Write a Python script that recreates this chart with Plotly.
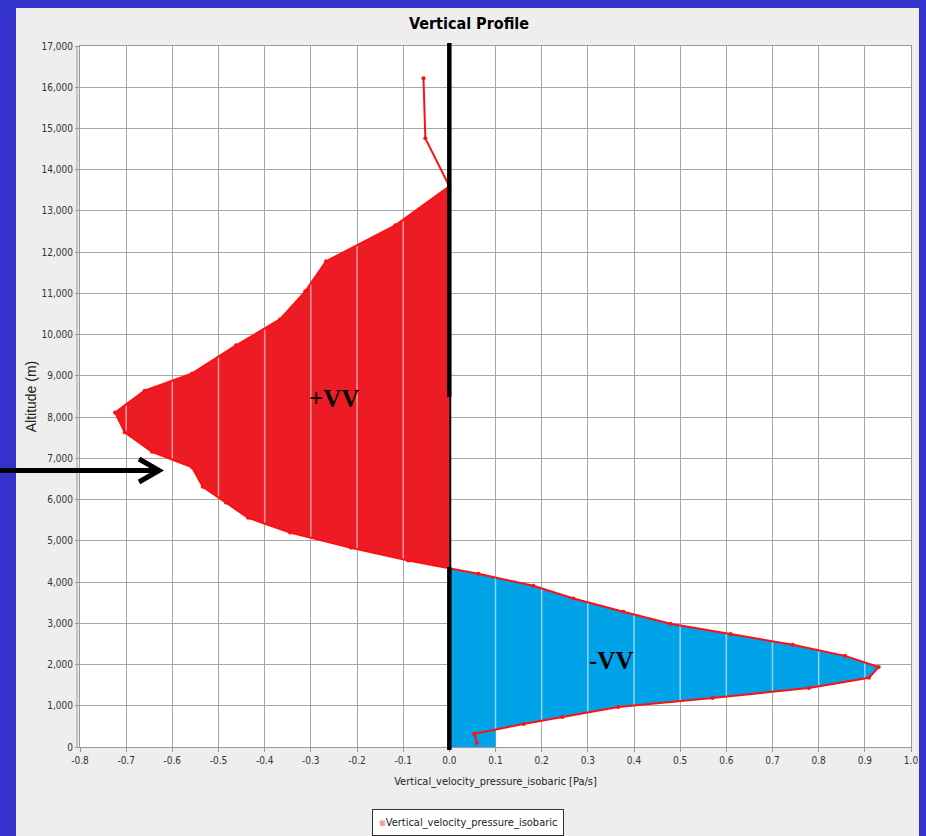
import plotly.graph_objects as go

# ---------------- data ----------------
velocity = [-0.056, -0.052, 0.0, -0.117, -0.267, -0.312, -0.367, -0.462, -0.557, -0.660,
            -0.724, -0.703, -0.644, -0.557, -0.534, -0.484, -0.436, -0.345, -0.213, -0.089,
            0.063, 0.182, 0.269, 0.377, 0.479, 0.609, 0.744, 0.857, 0.930, 0.909,
            0.779, 0.570, 0.366, 0.245, 0.161, 0.054, 0.060]
altitude = [16220, 14760, 13600, 12650, 11780, 11050, 10370, 9740, 9060, 8640,
            8110, 7630, 7160, 6780, 6310, 5930, 5560, 5200, 4830, 4520,
            4200, 3910, 3600, 3280, 2990, 2740, 2480, 2210, 1940, 1680,
            1430, 1190, 970, 730, 560, 320, 100]
x_ticks = [round(-0.8 + 0.1 * i, 1) for i in range(19)]
y_ticks = list(range(0, 17001, 1000))
series_name = "Vertical_velocity_pressure_isobaric"
x_title = "Vertical_velocity_pressure_isobaric [Pa/s]"
y_title = "Altitude (m)"
chart_title = "Vertical Profile"

# ---------------- geometry helpers ----------------
W, H = 926, 836
L, R, T, B = 80, 911, 46, 747


def px(xp):
    return (xp - L) / (R - L)


def py(yp):
    return (B - yp) / (B - T)


NARROW = "DejaVu Sans Condensed, Liberation Sans Narrow, Arial Narrow, sans-serif"
RED_FILL = "#ed1c24"
BLUE_FILL = "#00a2e8"
LINE_RED = "#ff1010"

# ---------------- build fill polygons from the profile ----------------
start = velocity.index(0.0)          # profile touches x=0 at the top of the red area
red_x, red_y = [velocity[start]], [altitude[start]]
i = start + 1
while velocity[i] <= 0:
    red_x.append(velocity[i]); red_y.append(altitude[i])
    i += 1
x1, y1, x2, y2 = velocity[i - 1], altitude[i - 1], velocity[i], altitude[i]
yc = y1 + (0 - x1) * (y2 - y1) / (x2 - x1)
red_x.append(0.0); red_y.append(yc)

gx = 0.1   # the lower part of the blue area is bounded by the 0.1 gridline
peak = velocity.index(max(velocity))
blue_x, blue_y = [0.0], [yc]
while i < len(velocity):
    if i > peak and velocity[i] < gx:
        break
    blue_x.append(velocity[i]); blue_y.append(altitude[i])
    i += 1
x1, y1, x2, y2 = velocity[i - 1], altitude[i - 1], velocity[i], altitude[i]
yb = y1 + (gx - x1) * (y2 - y1) / (x2 - x1)
blue_x += [gx, gx, 0.0]
blue_y += [yb, 0.0, 0.0]


def stripes(poly_x, poly_y, grid):
    xs, ys = [], []
    n = len(poly_x)
    for g in grid:
        hits = []
        for k in range(n):
            ax_, ay_ = poly_x[k], poly_y[k]
            bx_, by_ = poly_x[(k + 1) % n], poly_y[(k + 1) % n]
            if ax_ == bx_:
                continue
            if (ax_ <= g < bx_) or (bx_ <= g < ax_):
                hits.append(ay_ + (g - ax_) * (by_ - ay_) / (bx_ - ax_))
        hits.sort()
        for a, b in zip(hits[0::2], hits[1::2]):
            xs += [g, g, None]
            ys += [a, b, None]
    return xs, ys


sx1, sy1 = stripes(red_x, red_y, [v for v in x_ticks if v < 0])
sx2, sy2 = stripes(blue_x, blue_y, [v for v in x_ticks if v > 0])

fig = go.Figure()
fig.add_trace(go.Scatter(x=red_x, y=red_y, fill="toself", fillcolor=RED_FILL,
                         mode="lines", line=dict(width=0), hoverinfo="skip", showlegend=False))
fig.add_trace(go.Scatter(x=blue_x, y=blue_y, fill="toself", fillcolor=BLUE_FILL,
                         mode="lines", line=dict(width=0), hoverinfo="skip", showlegend=False))
fig.add_trace(go.Scatter(x=sx1 + sx2, y=sy1 + sy2, mode="lines",
                         line=dict(color="rgba(255,255,255,0.55)", width=1.5),
                         hoverinfo="skip", showlegend=False))
fig.add_trace(go.Scatter(x=velocity, y=altitude, mode="lines+markers",
                         line=dict(color=LINE_RED, width=2),
                         marker=dict(color=LINE_RED, size=4),
                         name=series_name, showlegend=False))

# annotations
SERIF = "Liberation Serif, DejaVu Serif, serif"
fig.add_annotation(x=-0.249, y=8450, text="<b>+VV</b>", showarrow=False,
                   font=dict(family=SERIF, size=25, color="black"))
fig.add_annotation(x=0.351, y=2090, text="<b>-VV</b>", showarrow=False,
                   font=dict(family=SERIF, size=25, color="black"))
# legend box (drawn as a bordered text box)
fig.add_annotation(xref="paper", yref="paper", x=px(468), y=py(822), xanchor="center", yanchor="middle",
                   text=f"<span style='color:#f4a0a0'>▪</span>{series_name}", showarrow=False,
                   font=dict(family=NARROW, size=11, color="#222222"),
                   bgcolor="white", bordercolor="#333333", borderwidth=1, borderpad=6)

shapes = []
BLUE = "#3333cc"
shapes.append(dict(type="rect", xref="paper", yref="paper", x0=px(0), x1=px(16), y0=py(H), y1=py(0),
                   fillcolor=BLUE, line=dict(width=0), layer="above"))
shapes.append(dict(type="rect", xref="paper", yref="paper", x0=px(919), x1=px(W), y0=py(H), y1=py(0),
                   fillcolor=BLUE, line=dict(width=0), layer="above"))
shapes.append(dict(type="rect", xref="paper", yref="paper", x0=px(0), x1=px(W), y0=py(8), y1=py(0),
                   fillcolor=BLUE, line=dict(width=0), layer="above"))
shapes.append(dict(type="line", xref="paper", yref="paper", x0=px(77), x1=px(77), y0=0, y1=1,
                   line=dict(color="#999999", width=1), layer="above"))
# black zero line
shapes.append(dict(type="line", xref="x", yref="paper", x0=0, x1=0, y0=py(397), y1=py(43),
                   line=dict(color="black", width=4.5), layer="above"))
shapes.append(dict(type="line", xref="x", yref="paper", x0=0.002, x1=0.002, y0=py(567), y1=py(397),
                   line=dict(color="black", width=2), layer="above"))
shapes.append(dict(type="line", xref="x", yref="paper", x0=0, x1=0, y0=py(750), y1=py(567),
                   line=dict(color="black", width=4.5), layer="above"))
# arrow
ay_ = py(470.5)
path = (f"M {px(0)},{ay_} L {px(157)},{ay_} "
        f"M {px(139)},{py(459)} L {px(159)},{ay_} L {px(139)},{py(482)}")
shapes.append(dict(type="path", xref="paper", yref="paper", path=path,
                   line=dict(color="black", width=5), layer="above"))

fig.update_layout(
    width=W, height=H,
    margin=dict(l=L, r=W - R, t=T, b=H - B, autoexpand=False),
    paper_bgcolor="#eeeeee", plot_bgcolor="white",
    title=dict(text=f"<b>{chart_title}</b>", x=px(469), xref="paper", xanchor="center",
               y=1 - 23 / H, yref="container", yanchor="middle",
               font=dict(family=NARROW, size=16, color="black")),
    xaxis=dict(range=[-0.8, 1.0], tickmode="array", tickvals=x_ticks,
               ticktext=[f"{v:.1f}" for v in x_ticks],
               showgrid=True, gridcolor="#a6a6a6", gridwidth=1, zeroline=False,
               showline=True, linecolor="#999999", mirror=True,
               ticks="outside", ticklen=4, tickcolor="#999999",
               tickfont=dict(family=NARROW, size=10, color="#333333"),
               title=dict(text=x_title, standoff=12, font=dict(family=NARROW, size=11, color="#222222")),
               automargin=False),
    yaxis=dict(range=[0, 17000], tickmode="array", tickvals=y_ticks,
               ticktext=[f"{v:,}" for v in y_ticks],
               showgrid=True, gridcolor="#a6a6a6", gridwidth=1, zeroline=False,
               showline=True, linecolor="#999999", mirror=True,
               ticks="outside", ticklen=4, tickcolor="#999999",
               tickfont=dict(family=NARROW, size=10, color="#333333"),
               title=dict(text=y_title, standoff=1,
                          font=dict(family="Liberation Sans, Arial, sans-serif", size=14, color="#222222")),
               automargin=False),
    shapes=shapes,
    showlegend=False,
)

fig.write_html("out.html", config={"displayModeBar": False},
               post_script="document.body.style.margin='0px';")
